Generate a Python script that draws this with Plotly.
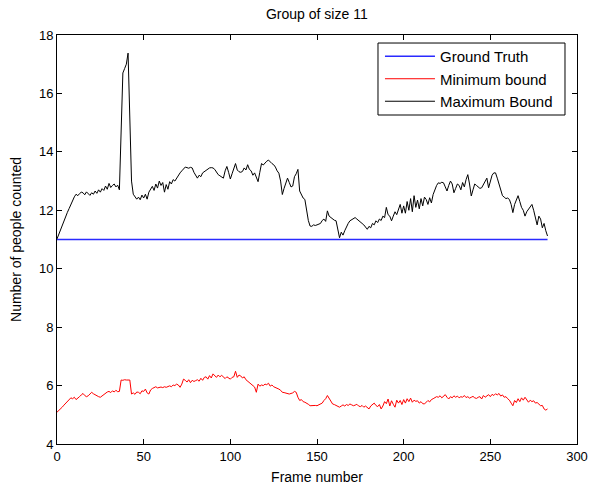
import plotly.graph_objects as go

frames = list(range(0, 284))

max_bound = [
    11.02, 11.18, 11.33, 11.49, 11.62, 11.78, 11.93, 12.06, 12.21, 12.34,
    12.46, 12.55, 12.50, 12.57, 12.62, 12.60, 12.53, 12.63, 12.58, 12.51,
    12.60, 12.55, 12.66, 12.58, 12.70, 12.62, 12.74, 12.68, 12.83, 12.72,
    12.92, 12.78, 12.85, 12.90, 12.80, 12.86, 12.70, 14.90, 16.70, 16.85,
    17.00, 17.38, 15.20, 13.00, 12.55, 12.48, 12.38, 12.45, 12.36, 12.52,
    12.42, 12.55, 12.38, 12.62, 12.70, 12.82, 12.68, 12.90, 12.76, 13.00,
    12.85, 12.95, 12.62, 12.88, 12.72, 12.98, 12.90, 13.05, 13.00, 13.10,
    13.20, 13.28, 13.35, 13.40, 13.48, 13.46, 13.44, 13.47, 13.45, 13.30,
    13.22, 13.10, 13.20, 13.15, 13.28, 13.32, 13.38, 13.42, 13.45, 13.46,
    13.45, 13.40, 13.30, 13.22, 13.18, 13.15, 13.10, 13.35, 13.50, 13.30,
    13.07, 13.25, 13.40, 13.60, 13.38, 13.32, 13.30, 13.33, 13.45, 13.38,
    13.56, 13.40, 13.35, 13.20, 13.28, 13.10, 12.98, 13.30, 13.60, 13.55,
    13.62, 13.68, 13.72, 13.65, 13.60, 13.56, 13.48, 13.35, 13.27, 13.00,
    12.54, 12.75, 12.90, 13.10, 12.95, 12.80, 12.83, 13.15, 13.25, 13.40,
    12.66, 12.55, 12.42, 12.37, 12.00, 11.65, 11.46, 11.45, 11.50, 11.48,
    11.50, 11.52, 11.55, 11.65, 11.70, 11.62, 11.98, 11.80, 11.75, 11.70,
    11.66, 11.64, 11.40, 11.06, 11.25, 11.15, 11.30, 11.45, 11.55, 11.64,
    11.68, 11.72, 11.75, 11.70, 11.66, 11.60, 11.55, 11.50, 11.42, 11.35,
    11.45, 11.40, 11.55, 11.50, 11.64, 11.58, 11.70, 11.65, 11.80, 11.75,
    12.10, 11.85, 11.80, 11.64, 11.80, 11.95, 11.85, 12.05, 12.20, 11.90,
    12.15, 11.90, 12.30, 12.00, 12.40, 11.95, 12.50, 12.10, 12.35, 12.05,
    12.40, 12.15, 12.45, 12.37, 12.20, 12.43, 12.25, 12.54, 12.70, 12.85,
    12.94, 12.92, 12.96, 12.94, 12.80, 12.66, 12.85, 13.00, 12.90, 12.60,
    12.75, 12.90, 12.85, 12.70, 12.95, 12.80, 13.05, 13.22, 12.90, 12.49,
    12.70, 12.90, 12.85, 12.80, 12.75, 12.77, 12.90, 13.00, 13.10, 12.77,
    13.00, 13.20, 13.28, 13.28, 13.10, 12.90, 12.66, 12.50, 12.45, 12.40,
    12.42, 12.37, 12.20, 11.92, 12.20, 12.35, 12.50, 12.30, 12.10, 12.00,
    11.80, 11.95, 12.05, 12.15, 12.20, 12.00, 11.70, 11.50, 11.80, 11.70,
    11.40, 11.55, 11.30, 11.12,
]

min_bound = [
    5.09, 5.14, 5.20, 5.26, 5.33, 5.40, 5.47, 5.54, 5.58, 5.55,
    5.60, 5.52, 5.56, 5.62, 5.68, 5.73, 5.66, 5.62, 5.65, 5.70,
    5.77, 5.72, 5.68, 5.66, 5.62, 5.60, 5.65, 5.70, 5.74, 5.78,
    5.80, 5.76, 5.82, 5.78, 5.84, 5.79, 5.80, 6.19, 6.18, 6.20,
    6.19, 6.20, 6.19, 5.71, 5.75, 5.70, 5.78, 5.77, 5.72, 5.82,
    5.80, 5.88, 5.75, 5.71, 5.85, 5.90, 5.93, 5.96, 5.92, 5.94,
    5.95, 5.93, 5.96, 5.94, 5.97, 5.99, 5.96, 6.02, 6.00, 6.05,
    6.02, 5.94, 6.05, 6.22, 6.18, 6.12, 6.20, 6.10, 6.18, 6.14,
    6.17, 6.20, 6.15, 6.25, 6.18, 6.28, 6.30, 6.22, 6.34, 6.26,
    6.40, 6.32, 6.28, 6.36, 6.30, 6.35, 6.28, 6.24, 6.30, 6.25,
    6.22, 6.28, 6.30, 6.49, 6.28, 6.36, 6.33, 6.26, 6.30, 6.20,
    6.15, 6.10, 6.05, 6.00, 5.95, 5.77, 6.05, 5.98, 6.02, 6.00,
    6.05, 6.03, 6.08, 5.98, 6.02, 5.96, 5.94, 5.92, 5.88, 5.84,
    5.77, 5.76, 5.74, 5.72, 5.71, 5.73, 5.75, 5.80, 5.77, 5.60,
    5.49, 5.52, 5.45, 5.43, 5.40, 5.36, 5.31, 5.32, 5.31, 5.32,
    5.31, 5.34, 5.36, 5.40, 5.49, 5.55, 5.66, 5.55, 5.45, 5.37,
    5.35, 5.32, 5.30, 5.26, 5.30, 5.34, 5.30, 5.35, 5.32, 5.37,
    5.34, 5.31, 5.33, 5.36, 5.30, 5.28, 5.32, 5.26, 5.30, 5.24,
    5.20, 5.30, 5.35, 5.40, 5.32, 5.28, 5.35, 5.20, 5.30, 5.45,
    5.38, 5.54, 5.30, 5.48, 5.36, 5.26, 5.50, 5.40, 5.49, 5.35,
    5.52, 5.40, 5.55, 5.45, 5.57, 5.43, 5.50, 5.46, 5.48, 5.40,
    5.45, 5.38, 5.37, 5.45, 5.49, 5.44, 5.52, 5.55, 5.58, 5.62,
    5.60, 5.65, 5.58, 5.64, 5.69, 5.60, 5.54, 5.62, 5.58, 5.65,
    5.60, 5.64, 5.58, 5.62, 5.60, 5.66, 5.59, 5.62, 5.57, 5.60,
    5.63, 5.58, 5.56, 5.60, 5.62, 5.54, 5.66, 5.60, 5.64, 5.69,
    5.62, 5.70, 5.66, 5.72, 5.68, 5.73, 5.64, 5.68, 5.60, 5.62,
    5.55, 5.50, 5.40, 5.31, 5.49, 5.42, 5.55, 5.45, 5.58, 5.50,
    5.60, 5.52, 5.43, 5.50, 5.45, 5.48, 5.40, 5.42, 5.38, 5.31,
    5.32, 5.20, 5.16, 5.20,
]

ground_truth = [11] * len(frames)

x_ticks = [0, 50, 100, 150, 200, 250, 300]
y_ticks = [4, 6, 8, 10, 12, 14, 16, 18]

FONT = "Liberation Sans, Arial, sans-serif"

fig = go.Figure()
fig.add_trace(go.Scatter(x=frames, y=ground_truth, mode="lines", name="Ground Truth",
                         line=dict(color="#2a2aff", width=1.5)))
fig.add_trace(go.Scatter(x=frames, y=min_bound, mode="lines", name="Minimum bound",
                         line=dict(color="#ff0000", width=1)))
fig.add_trace(go.Scatter(x=frames, y=max_bound, mode="lines", name="Maximum Bound",
                         line=dict(color="#000000", width=1)))

axis_common = dict(showline=True, linecolor="black", linewidth=1, mirror="ticks",
                   ticks="inside", ticklen=5, tickcolor="black", showgrid=False,
                   zeroline=False, automargin=False,
                   tickfont=dict(family=FONT, size=13, color="black"))

# legend frame (plot-area fractions)
fig.add_shape(type="rect", xref="paper", yref="paper",
              x0=0.6173, x1=0.9769, y0=0.8044, y1=0.9804,
              line=dict(color="black", width=1), fillcolor="white", layer="below")

fig.update_layout(
    width=590, height=486,
    margin=dict(l=57, r=13, t=35, b=42),
    paper_bgcolor="white", plot_bgcolor="white",
    font=dict(family=FONT, size=14, color="black"),
    title=dict(text="Group of size 11", x=0.537, xanchor="center",
               y=1 - 14 / 486, yanchor="middle", yref="container",
               font=dict(family=FONT, size=14, color="black")),
    xaxis=dict(range=[0, 300], tickvals=x_ticks, ticktext=[str(v) for v in x_ticks],
               title=dict(text="Frame number", standoff=9,
                          font=dict(family=FONT, size=14, color="black")),
               **axis_common),
    yaxis=dict(range=[4, 18], tickvals=y_ticks, ticktext=[str(v) for v in y_ticks],
               title=dict(text="Number of people counted", standoff=14,
                          font=dict(family=FONT, size=14, color="black")),
               **axis_common),
    legend=dict(x=0.6211, xanchor="left", y=0.9878, yanchor="top",
                bgcolor="rgba(0,0,0,0)", borderwidth=0,
                font=dict(family=FONT, size=15, color="black"),
                itemwidth=50, tracegroupgap=0),
    showlegend=True,
)

fig.write_html("out.html")
